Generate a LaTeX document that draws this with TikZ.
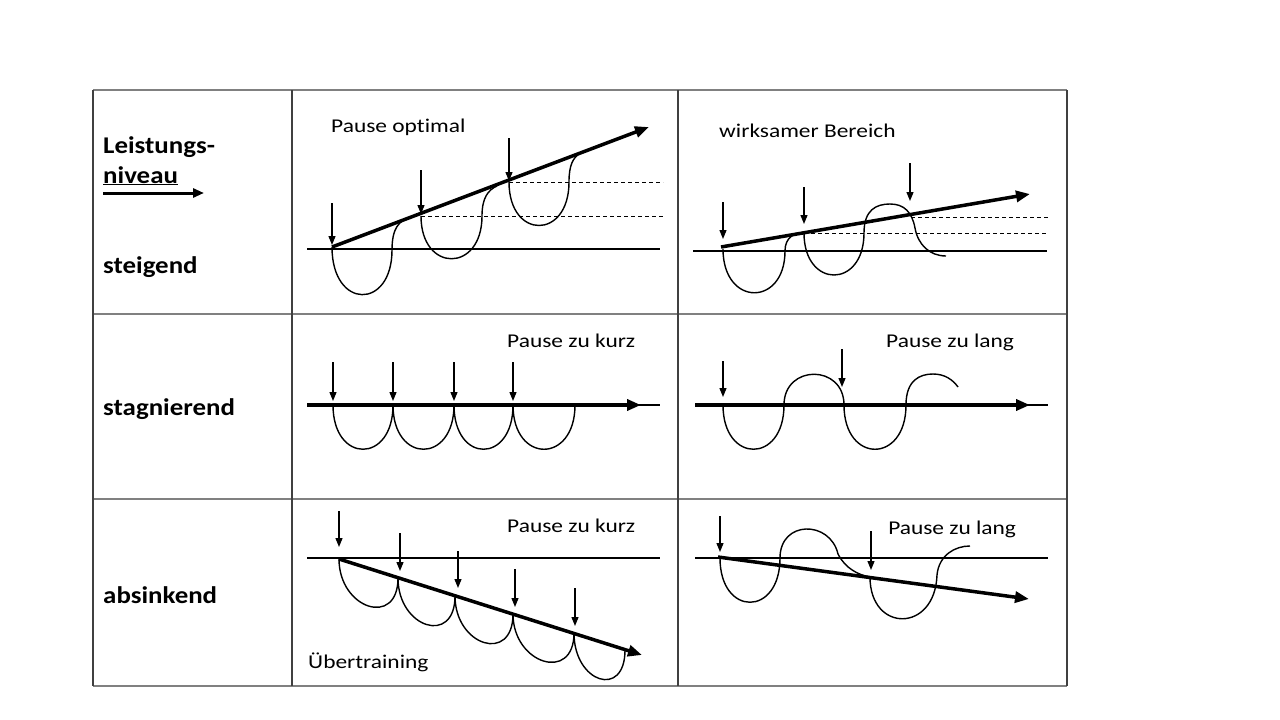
\documentclass[tikz,border=0pt]{standalone}
\usepackage{fontspec}
\setmainfont{Carlito}[Ligatures=NoCommon]
\usetikzlibrary{arrows.meta}

\begin{document}
\begin{tikzpicture}[x=1pt,y=-1pt,
  gridh/.style={draw=black!50, line width=1.3pt},
  gridv/.style={draw=black!75, line width=1.3pt},
  nullline/.style={line width=1.4pt},
  trend/.style={line width=3.5pt, -{Triangle[length=14pt,width=11pt]}},
  pausearrow/.style={line width=1.3pt, -{Triangle[length=9pt,width=7pt]}},
  wave/.style={line width=1.4pt},
  level/.style={dash pattern=on 4pt off 3pt, line width=0.8pt},
  lbl/.style={anchor=base west, inner sep=0pt, font=\fontsize{19.5}{23}\selectfont, xscale=1.2},
  rowlbl/.style={anchor=base west, inner sep=0pt, font=\fontsize{24}{29}\selectfont\bfseries, xscale=1.12}]
  \useasboundingbox (0,0) rectangle (1280,720);
  % table
  \foreach \y in {90,314,499,686}
    \draw[gridh] (93,\y) -- (1067,\y);
  \foreach \x in {93,292,678,1067}
    \draw[gridv] (\x,90) -- (\x,686);
  % row labels
  \node[rowlbl] (leist) at (103,153) {Leistungs-};
  \node[rowlbl] (niveau) at (103,183) {\underline{niveau}};
  \coordinate (n1) at (103,193);
  \coordinate (n2) at (204,193);
  \draw[line width=3pt, -{Triangle[length=11pt,width=9pt]}] (n1) -- (n2);
  \node[rowlbl] (steig) at (103,273) {steigend};
  \node[rowlbl] (stagn) at (103,415) {stagnierend};
  \node[rowlbl] (absink) at (103,603) {absinkend};

  % steigend, Pause optimal
  \node[lbl] (opt) at (331,132) {Pause optimal};
  \draw[nullline] (307,249) -- (660,249);
  \draw[level] (421,216) -- (663,216);
  \draw[level] (509,182) -- (663,182);
  \draw[wave] (332,247) .. controls (332,310) and (392,310) .. (392,250)
    .. controls (392,228) and (399,221) .. (410,217);
  \draw[wave] (421,216) .. controls (421,273) and (482,273) .. (482,216)
    .. controls (482,198) and (488,190) .. (497,186);
  \draw[wave] (509,182) .. controls (509,240) and (569,240) .. (569,182)
    .. controls (569,165) and (573,158) .. (580,153);
  \coordinate (t1a) at (332,247);
  \coordinate (t1b) at (649,127);
  \draw[trend] (t1a) -- (t1b);
  \draw[pausearrow] (332,203) -- (332,245);
  \draw[pausearrow] (421,170) -- (421,214);
  \draw[pausearrow] (509,138) -- (509,181);

  % steigend, wirksamer Bereich
  \node[lbl] (wirk) at (719,137) {wirksamer Bereich};
  \draw[nullline] (693,251) -- (1047,251);
  \draw[level] (804,233) -- (1048,233);
  \draw[level] (911,217) -- (1048,217);
  \draw[wave] (723,249) .. controls (723,307) and (785,307) .. (785,251)
    .. controls (785,237) and (795,232) .. (804,233)
    .. controls (804,289) and (864,289) .. (864,233)
    .. controls (864,210) and (876,204) .. (890,204)
    .. controls (904,204) and (912,212) .. (915,228)
    .. controls (918,245) and (930,256) .. (946,256);
  \coordinate (t2a) at (721,247);
  \coordinate (t2b) at (1030,194);
  \draw[trend] (t2a) -- (t2b);
  \draw[pausearrow] (723,202) -- (723,239);
  \draw[pausearrow] (804,187) -- (804,224);
  \draw[pausearrow] (910,163) -- (910,201);

  % stagnierend, Pause zu kurz
  \node[lbl] (kurz1) at (507,347) {Pause zu kurz};
  \draw[nullline] (307,405) -- (660,405);
  \draw[wave] (333,405) \foreach \x in {393,454,513,575} {
    .. controls +(0,59) and (\x,464) .. (\x,405)};
  \coordinate (t3a) at (307,405);
  \coordinate (t3b) at (641,405);
  \draw[trend] (t3a) -- (t3b);
  \foreach \x in {333,393,454,513}
    \draw[pausearrow] (\x,362) -- (\x,401);

  % stagnierend, Pause zu lang
  \node[lbl] (lang1) at (886,347) {Pause zu lang};
  \draw[nullline] (695,405) -- (1048,405);
  \draw[wave] (723,405) .. controls (723,464) and (784,464) .. (784,405)
    .. controls (784,364) and (844,364) .. (844,405)
    .. controls (844,464) and (906,464) .. (906,405)
    .. controls (906,380) and (920,374) .. (933,374)
    .. controls (945,374) and (953,380) .. (958,387);
  \coordinate (t4a) at (695,405);
  \coordinate (t4b) at (1030,405);
  \draw[trend] (t4a) -- (t4b);
  \draw[pausearrow] (723,361) -- (723,397);
  \draw[pausearrow] (842,349) -- (842,387);

  % absinkend, Pause zu kurz
  \node[lbl] (kurz2) at (507,532) {Pause zu kurz};
  \node[lbl] (uebertr) at (308,668) {Übertraining};
  \draw[nullline] (307,558) -- (660,558);
  \draw[wave] (339,559) .. controls (339,609) and (398,628) .. (398,578)
    .. controls (398,628) and (455,646) .. (455,596)
    .. controls (455,646) and (513,664) .. (513,614)
    .. controls (513,664) and (574,683) .. (574,633)
    .. controls (574,683) and (625,699) .. (625,650);
  \coordinate (t5a) at (339,559);
  \coordinate (t5b) at (642,655);
  \draw[trend] (t5a) -- (t5b);
  \draw[pausearrow] (339,511) -- (339,547);
  \draw[pausearrow] (400,533) -- (400,571);
  \draw[pausearrow] (458,551) -- (458,588);
  \draw[pausearrow] (515,569) -- (515,607);
  \draw[pausearrow] (575,588) -- (575,626);

  % absinkend, Pause zu lang
  \node[lbl] (lang2) at (888,534) {Pause zu lang};
  \draw[nullline] (695,558) -- (1048,558);
  \draw[wave] (720,558) .. controls (720,617) and (780,617) .. (780,558)
    .. controls (780,520) and (830,520) .. (838,554)
    .. controls (845,568) and (858,575) .. (870,577)
    .. controls (870,633) and (935,633) .. (937,575)
    .. controls (939,555) and (955,546) .. (970,546);
  \coordinate (t6a) at (718,557);
  \coordinate (t6b) at (1029,599);
  \draw[trend] (t6a) -- (t6b);
  \draw[pausearrow] (720,516) -- (720,552);
  \draw[pausearrow] (871,531) -- (871,570);
\end{tikzpicture}
\end{document}
